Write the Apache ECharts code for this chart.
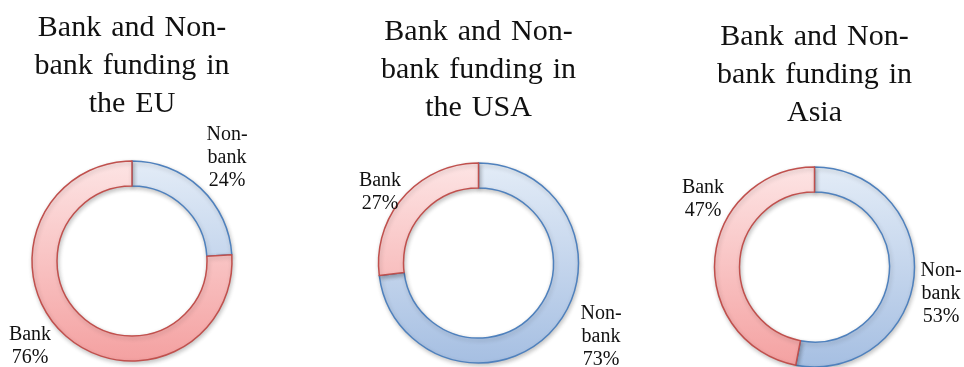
<!DOCTYPE html>
<html>
<head>
<meta charset="utf-8">
<title>Bank and Non-bank funding</title>
<script src="https://cdn.jsdelivr.net/npm/echarts@6/dist/echarts.min.js"></script>
<style>
  html, body { margin: 0; padding: 0; background: #ffffff; }
  #chart { width: 964px; height: 367px; }
</style>
</head>
<body>
<div id="chart"></div>
<script>
// Funding shares (%) by region; slices run clockwise from 12 o'clock
const regions = ['the EU', 'the USA', 'Asia'];
const sliceNames = ['Non-bank', 'Bank'];
const nonBankShare = [24, 73, 53];
const bankShare = [76, 27, 47];

// Layout of each donut: centre (px), title top (px), label anchors (px)
const layout = [
  { cx: 132,   cy: 261, titleTop: 9,  labels: [[227, 158], [30, 346]] },
  { cx: 478.5, cy: 263, titleTop: 13, labels: [[601, 337], [380, 192]] },
  { cx: 814.5, cy: 267, titleTop: 18, labels: [[941, 294], [703, 199]] }
];
const innerR = 75, outerR = 100;

const serif = '"Liberation Serif", "DejaVu Serif", serif';
// slightly wider word gap used in the titles (three-per-em space)
const gap = '\u2004';

// Fill gradients span the whole ring, light at the top, deeper at the bottom
function ringGradient(cy, top, bottom) {
  return {
    type: 'linear', global: true,
    x: 0, y: cy - outerR, x2: 0, y2: cy + outerR,
    colorStops: [{ offset: 0, color: top }, { offset: 1, color: bottom }]
  };
}

const titles = regions.map((r, i) => ({
  text: ['Bank and Non-', 'bank funding in', r]
    .map(line => line.split(' ').join(gap)).join('\n'),
  left: layout[i].cx,
  top: layout[i].titleTop,
  padding: 0,
  textAlign: 'center',
  textStyle: {
    fontFamily: serif, fontSize: 30, fontWeight: 'normal',
    color: '#111111', lineHeight: 38
  }
}));

const series = regions.map((r, i) => {
  const L = layout[i];
  const values = [nonBankShare[i], bankShare[i]];
  return {
    type: 'pie',
    name: r,
    center: [L.cx, L.cy],
    radius: [innerR, outerR],
    startAngle: 90,
    clockwise: true,
    avoidLabelOverlap: false,
    silent: true,
    animation: false,
    data: sliceNames.map((n, k) => ({
      name: n,
      value: values[k],
      itemStyle: k === 0
        ? { color: ringGradient(L.cy, '#e3ecf7', '#a6bfe2'), borderColor: '#4f81bd' }
        : { color: ringGradient(L.cy, '#fde4e4', '#f4a1a1'), borderColor: '#c0504d' }
    })),
    itemStyle: {
      borderWidth: 1.5,
      shadowBlur: 4, shadowOffsetY: 2, shadowOffsetX: 1,
      shadowColor: 'rgba(0,0,0,0.22)'
    },
    label: {
      show: true,
      position: 'outside',
      formatter: p => p.name.replace('-', '-\n') + '\n' + p.value + '%',
      fontFamily: serif, fontSize: 20, lineHeight: 23,
      color: '#111111', align: 'center'
    },
    labelLine: { show: false },
    labelLayout: p => {
      const pos = L.labels[p.dataIndex];
      return { x: pos[0], y: pos[1], align: 'center', verticalAlign: 'middle' };
    }
  };
});

const chart = echarts.init(document.getElementById('chart'), null, { renderer: 'canvas' });
chart.setOption({
  backgroundColor: '#ffffff',
  animation: false,
  title: titles,
  series: series
});
</script>
</body>
</html>
